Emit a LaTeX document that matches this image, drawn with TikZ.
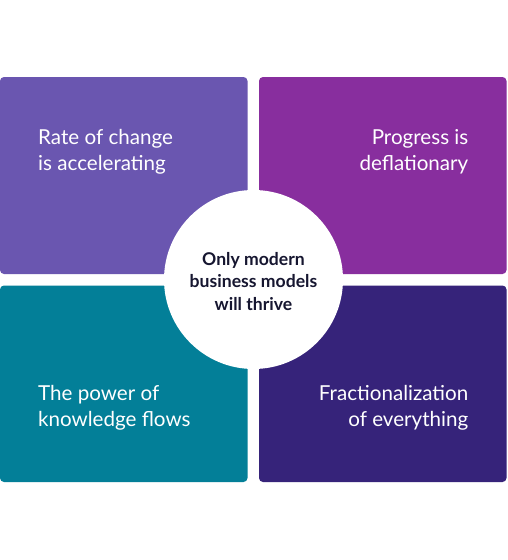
\documentclass[tikz,border=0pt]{standalone}
\usepackage{fontspec}
\setmainfont{Lato}
\definecolor{cTL}{RGB}{106,86,176}
\definecolor{cTR}{RGB}{136,46,158}
\definecolor{cBL}{RGB}{3,127,152}
\definecolor{cBR}{RGB}{54,35,122}
\definecolor{cText}{RGB}{22,22,48}
\begin{document}
\begin{tikzpicture}[x=1pt,y=-1pt,
  quad/.style={rounded corners=4pt},
  qtext/.style={inner sep=0pt,text=white,font=\fontsize{20.6}{26}\selectfont},
  ctext/.style={inner sep=0pt,text=cText,align=center,font=\fontsize{17.6}{22.5}\selectfont\bfseries}]
\useasboundingbox[fill=white] (0,0) rectangle (507,560);
\fill[cTL,quad] (0,77) rectangle (247.5,274);
\fill[cTR,quad] (259,77) rectangle (506.5,274);
\fill[cBL,quad] (0,285.5) rectangle (247.5,482);
\fill[cBR,quad] (259,285.5) rectangle (506.5,482);
\node[circle,fill=white,minimum size=179pt,inner sep=0pt] (c) at (253.5,279.5) {};
\node[ctext] (ct) at (253.5,281.5) {Only modern\\business models\\will thrive};
\node[qtext,anchor=west,align=left] (tl) at (38,151.5) {Rate of change\\is accelerating};
\node[qtext,anchor=east,align=right] (tr) at (468.5,151.5) {Progress is\\deflationary};
\node[qtext,anchor=west,align=left] (bl) at (38,407.5) {The power of\\knowledge flows};
\node[qtext,anchor=east,align=right] (br) at (468.5,407.5) {Fractionalization\\of everything};
\end{tikzpicture}
\end{document}
